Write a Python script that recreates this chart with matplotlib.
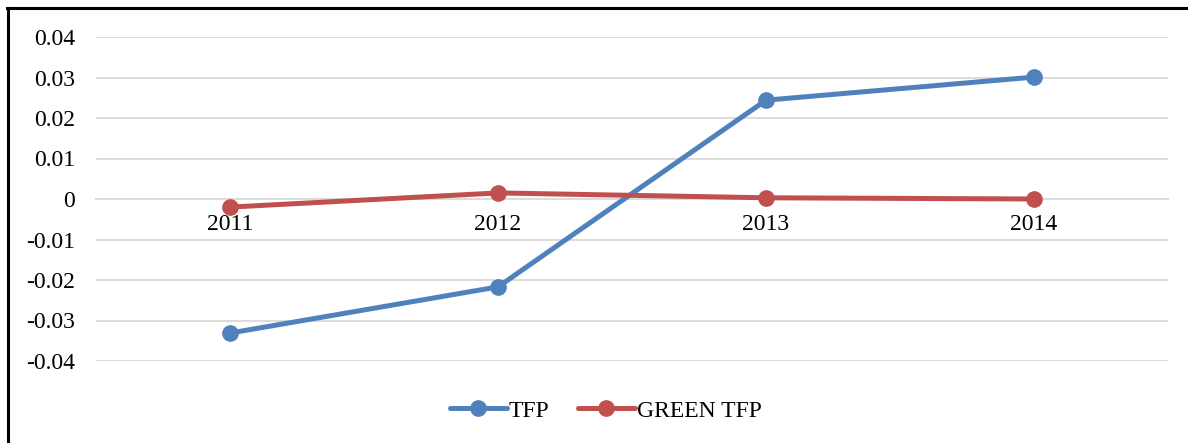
import matplotlib
matplotlib.use("Agg")
import matplotlib.pyplot as plt
from matplotlib.lines import Line2D

years = ["2011", "2012", "2013", "2014"]
tfp = [-0.0331, -0.0217, 0.0244, 0.0301]
green_tfp = [-0.0020, 0.0015, 0.0003, 0.0000]
y_ticks = [-0.04, -0.03, -0.02, -0.01, 0, 0.01, 0.02, 0.03, 0.04]
y_labels = ["-0.04", "-0.03", "-0.02", "-0.01", "0", "0.01", "0.02", "0.03", "0.04"]

plt.rcParams['font.family'] = ['Liberation Serif', 'DejaVu Serif']

W, H = 1188, 443
fig = plt.figure(figsize=(W / 100, H / 100), dpi=100)
ax = fig.add_axes([96 / W, 1 - 361 / H, (1168 - 96) / W, (361 - 37) / H])

x = list(range(len(years)))
ax.plot(x, tfp, color="#4F81BD", linewidth=3.6, marker="o", markersize=11,
        label="TFP", solid_capstyle="round", zorder=3)
ax.plot(x, green_tfp, color="#C0504D", linewidth=3.6, marker="o", markersize=11,
        label="GREEN TFP", solid_capstyle="round", zorder=3)

ax.set_xlim(-0.5, len(years) - 0.5)
ax.set_ylim(-0.04, 0.04)
ax.set_yticks(y_ticks)
ax.set_yticklabels(y_labels, fontsize=17)
ax.grid(axis="y", color="#DCDCDC", linewidth=1.4)
ax.set_axisbelow(True)
for s in ["top", "right", "left"]:
    ax.spines[s].set_visible(False)
ax.spines["bottom"].set_position(("data", 0))
ax.spines["bottom"].set_color("#DCDCDC")
ax.spines["bottom"].set_linewidth(1.4)
ax.set_xticks(x)
ax.set_xticklabels(years, fontsize=17)
ax.tick_params(axis="x", length=0, pad=11)
ax.tick_params(axis="y", length=0, pad=15)

fig.legend(loc="center", bbox_to_anchor=(606 / W, 1 - 411 / H), ncol=2, frameon=False,
           fontsize=17, handlelength=2.4, columnspacing=1.2, handletextpad=0.1)

# outer frame (left and top edges visible)
fig.add_artist(Line2D([8 / W, 8 / W], [0, 1 - 7.5 / H], transform=fig.transFigure,
                      color="black", linewidth=2.2))
fig.add_artist(Line2D([7 / W, 1], [1 - 7.5 / H, 1 - 7.5 / H], transform=fig.transFigure,
                      color="black", linewidth=2.2))

fig.savefig("out.png", dpi=100)
